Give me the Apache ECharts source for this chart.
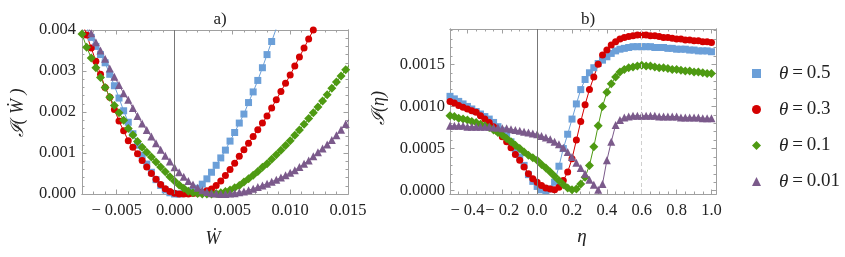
<!DOCTYPE html>
<html><head><meta charset="utf-8">
<script src="https://cdn.jsdelivr.net/npm/echarts@6/dist/echarts.min.js"></script>
<style>html,body{margin:0;padding:0;background:#fff}#c{width:845px;height:257px}</style>
</head><body><div id="c"></div>
<script>
// ---------- data ----------
const seriesNames = ['θ\u2009=\u20090.5', 'θ\u2009=\u20090.3', 'θ\u2009=\u20090.1', 'θ\u2009=\u20090.01'];

// panel a) : x = W-dot
const xW = [-0.008, -0.0076, -0.0072, -0.0068, -0.0064, -0.006, -0.0056, -0.0052, -0.0048, -0.0044, -0.004, -0.0036, -0.0032, -0.0028, -0.0024, -0.002, -0.0016, -0.0012, -0.0008, -0.0004, 0, 0.0004, 0.0008, 0.0012, 0.0016, 0.002, 0.0024, 0.0028, 0.0032, 0.0036, 0.004, 0.0044, 0.0048, 0.0052, 0.0056, 0.006, 0.0064, 0.0068, 0.0072, 0.0076, 0.008, 0.0084, 0.0088, 0.0092, 0.0096, 0.01, 0.0104, 0.0108, 0.0112, 0.0116, 0.012, 0.0124, 0.0128, 0.0132, 0.0136, 0.014, 0.0144, 0.0148, 0.0152];
const aBlue = [0.0043, 0.00406, 0.00382, 0.0036, 0.0034, 0.0032, 0.00292, 0.00264, 0.00234, 0.00203, 0.00175, 0.00147, 0.00119, 0.00094, 0.00073, 0.00053, 0.00035, 0.00021, 0.0001, 0.00003, 0, 0, 0.00001, 0.00004, 0.00008, 0.00014, 0.00024, 0.00037, 0.00053, 0.0007, 0.00088, 0.00107, 0.00129, 0.0015, 0.00173, 0.00195, 0.00223, 0.00249, 0.00277, 0.00308, 0.0034, 0.00372, 0.00404, 0.0044, null, null, null, null, null, null, null, null, null, null, null, null, null, null, null];
const aRed = [0.0042, 0.00388, 0.00356, 0.00324, 0.00292, 0.0026, 0.00236, 0.00206, 0.00178, 0.00154, 0.0013, 0.00114, 0.00098, 0.00082, 0.00066, 0.0005, 0.00036, 0.00023, 0.00013, 0.00006, 0.00002, 0, 0, 0, 0.00001, 0.00002, 0.00004, 0.00008, 0.00012, 0.00021, 0.00032, 0.00045, 0.0006, 0.00075, 0.00092, 0.00108, 0.00124, 0.0014, 0.00157, 0.00173, 0.0019, 0.0021, 0.0023, 0.0025, 0.0027, 0.0029, 0.00312, 0.00334, 0.00356, 0.00378, 0.004, 0.00422, null, null, null, null, null, null, null];
const aGreen = [0.0039, 0.00358, 0.00332, 0.00308, 0.00284, 0.0026, 0.00236, 0.00216, 0.00198, 0.0018, 0.0016, 0.00144, 0.00128, 0.00114, 0.00102, 0.0009, 0.00078, 0.00066, 0.00054, 0.00042, 0.00032, 0.00022, 0.00014, 0.00007, 0.00003, 0.00001, 0, 0, 0, 0.00001, 0.00003, 0.00006, 0.0001, 0.00015, 0.00021, 0.00029, 0.00037, 0.00046, 0.00055, 0.00065, 0.00074, 0.00085, 0.00096, 0.00107, 0.00118, 0.0013, 0.00143, 0.00156, 0.0017, 0.00184, 0.00198, 0.00212, 0.00227, 0.00242, 0.00258, 0.00273, 0.00288, 0.00303, 0.00318];
const aPurple = [0.0043, 0.00414, 0.00392, 0.0037, 0.0035, 0.0033, 0.00306, 0.00286, 0.00266, 0.00246, 0.0023, 0.0021, 0.0019, 0.00172, 0.00156, 0.0014, 0.00124, 0.00108, 0.00093, 0.00079, 0.00065, 0.00053, 0.00042, 0.00032, 0.00023, 0.00015, 0.00009, 0.00005, 0.00002, 0.00001, 0, 0, 0.00001, 0.00002, 0.00004, 0.00006, 0.00009, 0.00013, 0.00017, 0.00021, 0.00025, 0.0003, 0.00035, 0.0004, 0.00046, 0.00052, 0.00058, 0.00066, 0.00074, 0.00082, 0.00092, 0.00102, 0.00111, 0.00121, 0.00132, 0.00143, 0.00157, 0.00171, 0.00185];

// panel b) : x = eta
const xEta = [-0.5, -0.475, -0.45, -0.425, -0.4, -0.375, -0.35, -0.325, -0.3, -0.275, -0.25, -0.225, -0.2, -0.175, -0.15, -0.125, -0.1, -0.075, -0.05, -0.025, 0, 0.025, 0.05, 0.075, 0.1, 0.125, 0.15, 0.175, 0.2, 0.225, 0.25, 0.275, 0.3, 0.325, 0.35, 0.375, 0.4, 0.425, 0.45, 0.475, 0.5, 0.525, 0.55, 0.575, 0.6, 0.625, 0.65, 0.675, 0.7, 0.725, 0.75, 0.775, 0.8, 0.825, 0.85, 0.875, 0.9, 0.925, 0.95, 0.975, 1.0];
const bBlue = [0.00112, 0.00109, 0.00106, 0.00103, 0.00100, 0.00097, 0.00094, 0.00091, 0.00088, 0.00085, 0.00081, 0.00076, 0.00071, 0.00066, 0.00058, 0.00049, 0.00040, 0.00030, 0.00019, 0.00011, 0.00005, 0.00001, 0.0, 0.00002, 0.00010, 0.00029, 0.00050, 0.00067, 0.00085, 0.00103, 0.00120, 0.00132, 0.00140, 0.00146, 0.00151, 0.00155, 0.00159, 0.00163, 0.00166, 0.00168, 0.00169, 0.00170, 0.00171, 0.00171, 0.00171, 0.00171, 0.00171, 0.00170, 0.00170, 0.00170, 0.00169, 0.00169, 0.00168, 0.00168, 0.00168, 0.00167, 0.00167, 0.00166, 0.00166, 0.00166, 0.00165];
const bRed = [0.00106, 0.00104, 0.00101, 0.00099, 0.00097, 0.00095, 0.00093, 0.00089, 0.00085, 0.00081, 0.00076, 0.00070, 0.00064, 0.00058, 0.00051, 0.00043, 0.00036, 0.00028, 0.00020, 0.00014, 0.00010, 0.00006, 0.00003, 0.00002, 0.00001, 0.00004, 0.00012, 0.00022, 0.00038, 0.00060, 0.00082, 0.00102, 0.00120, 0.00135, 0.00150, 0.00161, 0.00167, 0.00173, 0.00177, 0.00180, 0.00182, 0.00183, 0.00184, 0.00185, 0.00185, 0.00185, 0.00184, 0.00184, 0.00183, 0.00182, 0.00182, 0.00181, 0.00180, 0.00180, 0.00179, 0.00179, 0.00178, 0.00178, 0.00177, 0.00177, 0.00176];
const bGreen = [0.00089, 0.00088, 0.00086, 0.00085, 0.00084, 0.00082, 0.00081, 0.00079, 0.00077, 0.00075, 0.00072, 0.00069, 0.00066, 0.00062, 0.00058, 0.00054, 0.00050, 0.00046, 0.00042, 0.00039, 0.00036, 0.00031, 0.00027, 0.00022, 0.00017, 0.00012, 0.00007, 0.00003, 0.00001, 0.00002, 0.00008, 0.00016, 0.00030, 0.00052, 0.00077, 0.00100, 0.00117, 0.00127, 0.00135, 0.00141, 0.00144, 0.00146, 0.00147, 0.00148, 0.00149, 0.00148, 0.00148, 0.00147, 0.00146, 0.00146, 0.00145, 0.00144, 0.00144, 0.00143, 0.00142, 0.00142, 0.00141, 0.00141, 0.00140, 0.00139, 0.00139];
const bPurple = [0.00077, 0.00077, 0.00077, 0.00077, 0.00076, 0.00076, 0.00076, 0.00076, 0.00076, 0.00076, 0.00075, 0.00075, 0.00074, 0.00074, 0.00073, 0.00072, 0.00071, 0.00070, 0.00069, 0.00068, 0.00067, 0.00065, 0.00063, 0.00061, 0.00058, 0.00055, 0.00051, 0.00046, 0.00040, 0.00033, 0.00027, 0.00020, 0.00013, 0.00007, 0.00001, 0.00008, 0.00036, 0.00058, 0.00078, 0.00084, 0.00087, 0.00088, 0.00089, 0.00089, 0.00089, 0.00089, 0.00089, 0.00089, 0.00088, 0.00088, 0.00088, 0.00088, 0.00088, 0.00087, 0.00087, 0.00087, 0.00087, 0.00087, 0.00086, 0.00086, 0.00086];

// tick labels
const aXTicks = [-0.005, 0, 0.005, 0.01, 0.015];
const aXTickLabels = ['\u2212 0.005', '0.000', '0.005', '0.010', '0.015'];
const aYTicks = [0, 0.001, 0.002, 0.003, 0.004];
const aYTickLabels = ['0.000', '0.001', '0.002', '0.003', '0.004'];
const bXTicks = [-0.4, -0.2, 0, 0.2, 0.4, 0.6, 0.8, 1.0];
const bXTickLabels = ['\u2212 0.4', '\u2212 0.2', '0.0', '0.2', '0.4', '0.6', '0.8', '1.0'];
const bYTicks = [0, 0.0005, 0.001, 0.0015];
const bYTickLabels = ['0.0000', '0.0005', '0.0010', '0.0015'];

// ---------- styling ----------
const colors = ['#6b9fd8', '#d40000', '#4e9a12', '#7b5a8b'];
const symbols = ['rect', 'circle', 'diamond', 'triangle'];
const symSizes = [7, 7, 9, 8];
const FONT = "'Liberation Serif', 'DejaVu Serif', serif";
const FRAME = '#a0a0a0';

function minorList(min, max, step) {
  const out = [];
  const n = Math.round((max - min) / step);
  for (let i = 0; i <= n; i++) out.push(+(min + i * step).toFixed(6));
  return out;
}
function labelFor(ticks, labels) {
  return v => { let k = 0, d = Infinity; ticks.forEach((t, i) => { const e = Math.abs(t - v); if (e < d) { d = e; k = i; } }); return labels[k]; };
}
function axes(dim, grid, min, max, majors, minors, labels, margin) {
  const posA = dim === 'x' ? 'bottom' : 'left';
  const posB = dim === 'x' ? 'top' : 'right';
  const base = (pos, ticks, len, showLabel) => ({
    type: 'value', gridIndex: grid, min, max, position: pos,
    axisLine: { show: true, onZero: false, lineStyle: { color: FRAME, width: 1 } },
    axisTick: { show: true, inside: true, length: len, customValues: ticks, lineStyle: { color: FRAME, width: 1 } },
    axisLabel: showLabel ? { show: true, customValues: majors, formatter: labelFor(majors, labels), margin, color: '#222', fontFamily: FONT, fontSize: 16.5 } : { show: false },
    splitLine: { show: false }
  });
  return [base(posA, majors, 4.5, true), base(posA, minors, 2.5, false), base(posB, majors, 4.5, false), base(posB, minors, 2.5, false)];
}

const xAxes = [].concat(
  axes('x', 0, -0.008, 0.015, aXTicks, minorList(-0.008, 0.015, 0.001), aXTickLabels, 8),
  axes('x', 1, -0.5, 1.026, bXTicks, minorList(-0.5, 1.0, 0.05), bXTickLabels, 8)
);
const yAxes = [].concat(
  axes('y', 0, 0, 0.004, aYTicks, minorList(0, 0.004, 0.0002), aYTickLabels, 6),
  axes('y', 1, -0.00004, 0.00192, bYTicks, minorList(0, 0.0019, 0.0001), bYTickLabels, 5)
);

const aData = [aBlue, aRed, aGreen, aPurple];
const bData = [bBlue, bRed, bGreen, bPurple];
const series = [];
function mk(i, xs, ys, axisIdx) {
  return {
    name: seriesNames[i], type: 'line', xAxisIndex: axisIdx, yAxisIndex: axisIdx,
    data: xs.map((x, k) => [x, ys[k]]),
    symbol: symbols[i], symbolSize: symSizes[i], showSymbol: true, connectNulls: false,
    itemStyle: { color: colors[i] }, lineStyle: { color: colors[i], width: 1 },
    animation: false, silent: true, clip: true
  };
}
for (let i = 0; i < 4; i++) series.push(mk(i, xW, aData[i], 0));
for (let i = 0; i < 4; i++) series.push(mk(i, xEta, bData[i], 4));
// reference lines
series[0].markLine = { silent: true, symbol: 'none', label: { show: false }, animation: false,
  lineStyle: { color: '#777', type: 'solid', width: 1 }, data: [{ xAxis: 0 }] };
series[4].markLine = { silent: true, symbol: 'none', label: { show: false }, animation: false,
  data: [{ xAxis: 0, lineStyle: { color: '#777', type: 'solid', width: 1 } },
         { xAxis: 0.6, lineStyle: { color: '#cfcfcf', type: [4, 3], width: 1 } }] };

const option = {
  animation: false,
  backgroundColor: '#fff',
  grid: [
    { left: 82, top: 30, width: 266, height: 164 },
    { left: 450, top: 29, width: 266, height: 165 }
  ],
  xAxis: xAxes,
  yAxis: yAxes,
  title: [
    { text: 'a)', left: 215, top: 6, textAlign: 'center', textStyle: { fontFamily: FONT, fontWeight: 'normal', fontSize: 17, color: '#222' } },
    { text: 'b)', left: 583, top: 6, textAlign: 'center', textStyle: { fontFamily: FONT, fontWeight: 'normal', fontSize: 17, color: '#222' } }
  ],
  legend: {
    orient: 'vertical', left: 747, top: 59, itemWidth: 9, itemHeight: 9, itemGap: 17,
    selectedMode: false,
    data: seriesNames.map((n, i) => ({ name: n, icon: symbols[i] })),
    formatter: n => '{i|θ}{r|' + n.slice(1) + '}',
    textStyle: { padding: [0, 0, 0, 13], rich: {
      i: { fontFamily: FONT, fontStyle: 'italic', fontSize: 19, color: '#222' },
      r: { fontFamily: FONT, fontSize: 19, color: '#222' } } }
  },
  graphic: [
    { type: 'text', x: 18, y: 113, rotation: Math.PI / 2, style: { text: 'ℐ( Ẇ )', font: 'italic 18px ' + FONT, fill: '#222', align: 'center', verticalAlign: 'middle' } },
    { type: 'text', x: 379, y: 108, rotation: Math.PI / 2, style: { text: 'ℐ(η)', font: 'italic 18px ' + FONT, fill: '#222', align: 'center', verticalAlign: 'middle' } },
    { type: 'text', x: 213, y: 239, style: { text: 'Ẇ', font: 'italic 18px ' + FONT, fill: '#222', align: 'center', verticalAlign: 'middle' } },
    { type: 'text', x: 582, y: 237, style: { text: 'η', font: 'italic 19px ' + FONT, fill: '#222', align: 'center', verticalAlign: 'middle' } }
  ],
  series
};
const chart = echarts.init(document.getElementById('c'), null, { renderer: 'canvas' });
chart.setOption(option);
</script></body></html>
